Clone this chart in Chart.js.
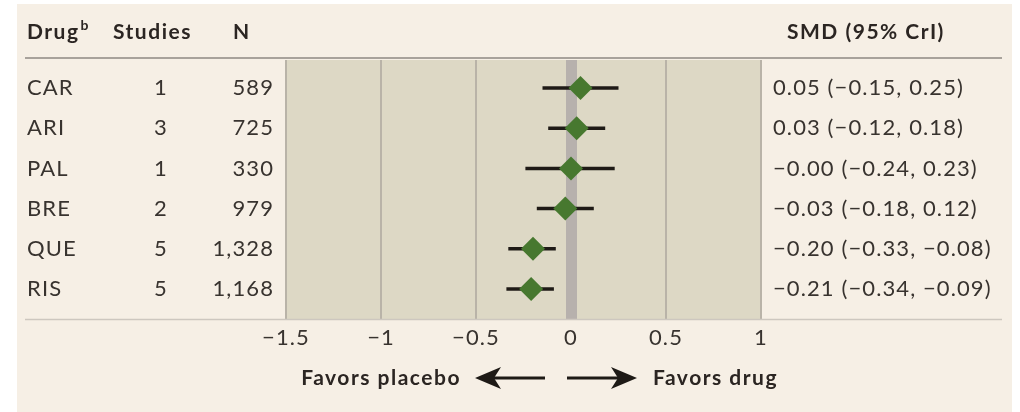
<!DOCTYPE html>
<html>
<head>
<meta charset="utf-8">
<script src="https://cdn.jsdelivr.net/npm/chart.js@4/dist/chart.umd.min.js"></script>
<style>
  body { margin: 0; background: #fff; }
  canvas { display: block; }
</style>
</head>
<body>
<canvas id="forest" width="1020" height="412"></canvas>
<script>
// values
var drugs = ['CAR', 'ARI', 'PAL', 'BRE', 'QUE', 'RIS'];
var studies = [1, 3, 1, 2, 5, 5];
var patients = [589, 725, 330, 979, 1328, 1168];
var smd = [0.05, 0.03, -0.00, -0.03, -0.20, -0.21];
var lower = [-0.15, -0.12, -0.24, -0.18, -0.33, -0.34];
var upper = [0.25, 0.18, 0.23, 0.12, -0.08, -0.09];
var xTicks = [-1.5, -1, -0.5, 0, 0.5, 1];

var FONT = 'Lato, "Open Sans", sans-serif';
var TEXT = '#38332f';
var HEAD = '#2b2522';

function signed(v, d) {
	var neg = v < 0 || Object.is(v, -0);
	var s = d === undefined ? String(Math.abs(v)) : Math.abs(v).toFixed(d);
	return (neg ? '\u2212' : '') + s;
}

var points = drugs.map(function (d, i) { return {x: smd[i], y: i}; });

var tablePlugin = {
	id: 'table',
	beforeDraw: function (chart) {
		var c = chart.ctx, a = chart.chartArea;
		c.save();
		c.fillStyle = '#ffffff';
		c.fillRect(0, 0, chart.width, chart.height);
		c.fillStyle = '#f6efe5';
		c.fillRect(17, 4, 995, chart.height - 4);
		c.fillStyle = '#ddd8c5';
		c.fillRect(a.left, a.top, a.right - a.left, a.bottom - a.top);
		c.restore();
		// wider tracking for the tick labels as well
		c.letterSpacing = '1.1px';
	},
	beforeDatasetsDraw: function (chart) {
		var c = chart.ctx, xs = chart.scales.x, ys = chart.scales.y;
		c.save();
		c.strokeStyle = '#1e1a16';
		c.lineWidth = 3.5;
		drugs.forEach(function (d, i) {
			var y = ys.getPixelForValue(i);
			c.beginPath();
			c.moveTo(xs.getPixelForValue(lower[i]), y);
			c.lineTo(xs.getPixelForValue(upper[i]), y);
			c.stroke();
		});
		c.restore();
	},
	afterDraw: function (chart) {
		var c = chart.ctx, a = chart.chartArea, ys = chart.scales.y;
		c.save();
		// rules
		c.strokeStyle = '#a8a29b';
		c.lineWidth = 2;
		c.beginPath(); c.moveTo(25, 58); c.lineTo(1002, 58); c.stroke();
		c.strokeStyle = '#cdc7bf';
		c.lineWidth = 1.5;
		c.beginPath(); c.moveTo(25, a.bottom + 0.5); c.lineTo(1002, a.bottom + 0.5); c.stroke();

		// header
		c.fillStyle = HEAD;
		c.textBaseline = 'alphabetic';
		c.textAlign = 'left';
		c.letterSpacing = '1.5px';
		c.font = 'bold 21px ' + FONT;
		c.fillText('Drug', 27, 39);
		var w = c.measureText('Drug').width;
		c.font = 'bold 14px ' + FONT;
		c.letterSpacing = '0px';
		c.fillText('b', 27 + w + 1, 30);
		c.letterSpacing = '1.5px';
		c.font = 'bold 21px ' + FONT;
		c.fillText('Studies', 113, 39);
		c.fillText('N', 233, 39);
		c.fillText('SMD (95% CrI)', 787, 39);

		// rows
		c.font = '22px ' + FONT;
		c.letterSpacing = '1.1px';
		c.fillStyle = TEXT;
		c.textBaseline = 'middle';
		drugs.forEach(function (d, i) {
			var y = ys.getPixelForValue(i);
			c.textAlign = 'left';
			c.fillText(d, 27, y);
			c.textAlign = 'center';
			c.fillText(String(studies[i]), 161, y);
			c.textAlign = 'right';
			c.fillText(patients[i].toLocaleString('en-US'), 274, y);
			c.textAlign = 'left';
			c.fillText(signed(smd[i], 2) + ' (' + signed(lower[i], 2) + ', ' + signed(upper[i], 2) + ')', 773, y);
		});

		// favors footer
		var fy = 378;
		c.font = 'bold 21px ' + FONT;
		c.letterSpacing = '1.5px';
		c.fillStyle = HEAD;
		c.textAlign = 'right';
		c.fillText('Favors placebo', 461, fy);
		c.textAlign = 'left';
		c.fillText('Favors drug', 653, fy);
		drawArrow(c, 545, 475, fy);
		drawArrow(c, 567, 637, fy);
		c.restore();
		c.letterSpacing = '0px';
	}
};

function drawArrow(c, from, to, y) {
	var dir = to > from ? 1 : -1;
	c.strokeStyle = '#1e1a16';
	c.fillStyle = '#1e1a16';
	c.lineWidth = 3;
	c.beginPath();
	c.moveTo(from, y);
	c.lineTo(to - dir * 16, y);
	c.stroke();
	c.beginPath();
	c.moveTo(to, y);
	c.lineTo(to - dir * 26, y - 11);
	c.lineTo(to - dir * 19, y);
	c.lineTo(to - dir * 26, y + 11);
	c.closePath();
	c.fill();
}

var config = {
	type: 'scatter',
	data: {
		datasets: [{
			data: points,
			pointStyle: 'rectRot',
			pointRadius: 12,
			pointHoverRadius: 12,
			backgroundColor: '#47782f',
			borderColor: '#47782f',
			borderWidth: 0
		}]
	},
	options: {
		responsive: false,
		animation: false,
		events: [],
		layout: {padding: {left: 286, right: 259, top: 60, bottom: 0}},
		plugins: {legend: {display: false}, tooltip: {enabled: false}},
		scales: {
			x: {
				type: 'linear',
				min: -1.5,
				max: 1,
				afterBuildTicks: function (s) { s.ticks = xTicks.map(function (v) { return {value: v}; }); },
				afterFit: function (s) { s.height = 93; },
				border: {display: false},
				grid: {
					drawTicks: false,
					color: function (ctx) { return ctx.tick && ctx.tick.value === 0 ? '#b7b1ad' : '#b9b3a8'; },
					lineWidth: function (ctx) { return ctx.tick && ctx.tick.value === 0 ? 11 : 2; }
				},
				ticks: {
					padding: 6,
					color: TEXT,
					font: {family: FONT, size: 22},
					maxRotation: 0,
					callback: function (v) { return signed(v); }
				}
			},
			y: {
				type: 'linear',
				display: false,
				reverse: true,
				min: -0.7,
				max: 5.75
			}
		}
	},
	plugins: [tablePlugin]
};

var forest = new Chart(document.getElementById('forest').getContext('2d'), config);
</script>
</body>
</html>
